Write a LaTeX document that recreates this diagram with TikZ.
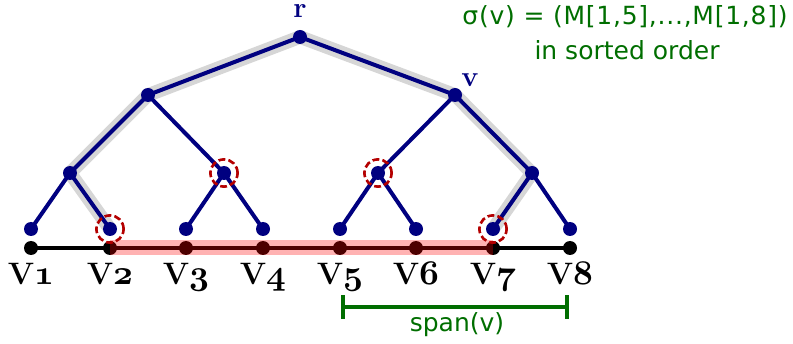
\documentclass[tikz,border=0pt]{standalone}
\usepackage{fontspec}
\newfontfamily\notefont{DejaVu Sans}
\usetikzlibrary{arrows.meta}
\definecolor{treeblue}{RGB}{0,0,128}
\definecolor{notegreen}{RGB}{0,110,0}
\definecolor{markred}{RGB}{180,0,0}
\newcommand{\osnum}[1]{{\fontsize{19}{20}\usefont{OML}{cmm}{b}{it}#1}}

\begin{document}
\begin{tikzpicture}[
  x=0.5pt, y=0.5pt,
  edge/.style={treeblue, line width=2pt},
  trail/.style={black!16, line width=6.8pt, line join=round},
  marked/.style={markred, line width=1.3pt, dash pattern=on 3.4pt off 1.6pt},
  vlabel/.style={font=\fontsize{15.5}{18}\selectfont\bfseries, inner sep=0pt},
  tlabel/.style={font=\Large\bfseries, text=treeblue, inner sep=0pt},
  note/.style={font=\notefont\fontsize{12.5}{14}\selectfont, text=notegreen, inner sep=0pt},
]
\useasboundingbox (0,0) rectangle (793,343);

% ---------- TREE NODES ----------
\coordinate (r)  at (300,306);
\coordinate (a)  at (148,248);
\coordinate (v)  at (455,248);
\coordinate (a1) at (70,170);
\coordinate (a2) at (224,170);
\coordinate (v1) at (378,170);
\coordinate (v2) at (532,170);
\foreach \i/\x in {1/31,2/110,3/186,4/263,5/340,6/416,7/493,8/570}{%
  \coordinate (l\i) at (\x,114);
  \coordinate (b\i) at (\x,95);
  \node[vlabel, anchor=base] (t\i) at (\x,58) {V\osnum{\i}};}

% ---------- SEARCH PATHS ----------
\draw[trail] (l2) -- (a1) -- (a) -- (r) -- (v) -- (v2) -- (l7);

% ---------- EDGES AND DOTS ----------
\foreach \p/\c in {r/a,r/v,a/a1,a/a2,v/v1,v/v2,a1/l1,a1/l2,a2/l3,a2/l4,v1/l5,v1/l6,v2/l7,v2/l8}
  \draw[edge] (\p) -- (\c);
\foreach \n in {r,a,v,a1,a2,v1,v2,l1,l2,l3,l4,l5,l6,l7,l8}
  \fill[treeblue] (\n) circle (3.5pt);
\node[tlabel, anchor=base] (rlab) at (300,325) {r};
\node[tlabel, anchor=base] (vlab) at (470,256) {v};

% ---------- BASE LINE ----------
\draw[line width=2.2pt] (b1) -- (b8);
\foreach \i in {1,...,8}
  \fill (b\i) circle (3.5pt);
\draw[red, opacity=0.3, line width=7.5pt] (b2) -- (b7);

% marked nodes
\foreach \n in {l2,a2,v1,l7}
  \draw[marked] (\n) circle (6.8pt);

% ---------- SPAN AND NOTE ----------
\coordinate (s1) at (341,36);
\coordinate (s2) at (569,36);
\draw[notegreen, line width=2pt, {Bar[width=11.5pt]}-{Bar[width=11.5pt]}] (s1) -- (s2);
\node[note] (span) at (457,18) {span(v)};
\node[note] (sig) at (625,326) {\addfontfeatures{LetterSpace=3}σ(v) = (M[1,5],...,M[1,8])};
\node[note] (sorted) at (627,293) {in sorted order};

\end{tikzpicture}
\end{document}
